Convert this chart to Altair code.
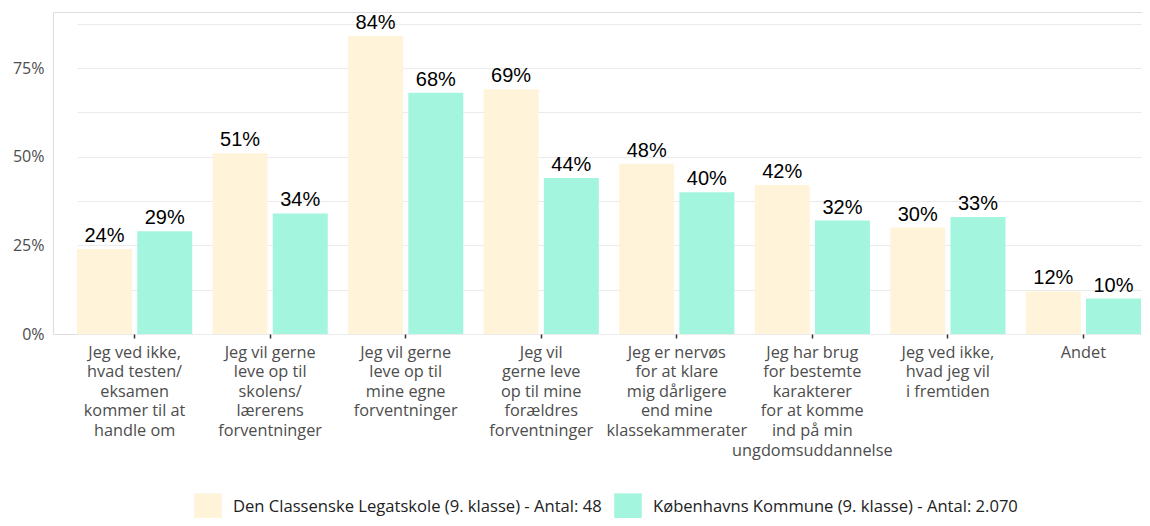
import altair as alt
import pandas as pd

categories = [
    "Jeg ved ikke,|hvad testen/|eksamen|kommer til at|handle om",
    "Jeg vil gerne|leve op til|skolens/|lærerens|forventninger",
    "Jeg vil gerne|leve op til|mine egne|forventninger",
    "Jeg vil|gerne leve|op til mine|forældres|forventninger",
    "Jeg er nervøs|for at klare|mig dårligere|end mine|klassekammerater",
    "Jeg har brug|for bestemte|karakterer|for at komme|ind på min|ungdomsuddannelse",
    "Jeg ved ikke,|hvad jeg vil|i fremtiden",
    "Andet",
]
series = [
    "Den Classenske Legatskole (9. klasse) - Antal: 48",
    "Københavns Kommune (9. klasse) - Antal: 2.070",
]
legatskole = [24, 51, 84, 69, 48, 42, 30, 12]
kommune = [29, 34, 68, 44, 40, 32, 33, 10]
colors = ["#FFF3DA", "#A3F5DE"]
y_ticks = [0, 12.5, 25, 37.5, 50, 62.5, 75, 87.5]

rows = []
for c, a, b in zip(categories, legatskole, kommune):
    rows.append({"cat": c, "serie": series[0], "value": a})
    rows.append({"cat": c, "serie": series[1], "value": b})
df = pd.DataFrame(rows)

FONT = "Open Sans"

base = alt.Chart(df).encode(
    x=alt.X(
        "cat:N",
        sort=categories,
        scale=alt.Scale(range=[24, 1088], paddingInner=0.15, paddingOuter=0),
        axis=alt.Axis(
            title=None,
            labelAngle=0,
            labelExpr="split(datum.label, '|')",
            labelFont=FONT,
            labelFontSize=16.3,
            labelColor="#4d4d4d",
            labelLineHeight=19.6,
            labelPadding=6,
            labelLimit=300,
            domain=False,
            grid=False,
            ticks=True,
            tickSize=4,
            tickColor="#333333",
            tickWidth=1.5,
        ),
    ),
    xOffset=alt.XOffset(
        "serie:N",
        sort=series,
        scale=alt.Scale(paddingInner=0.087, paddingOuter=0),
    ),
)

bars = base.mark_bar().encode(
    y=alt.Y(
        "value:Q",
        scale=alt.Scale(domain=[0, 90.8], nice=False),
        axis=alt.Axis(
            title=None,
            values=y_ticks,
            labelExpr="datum.value % 25 == 0 ? datum.value + '%' : ''",
            labelFont=FONT,
            labelFontSize=16,
            labelColor="#4d4d4d",
            labelPadding=9,
            ticks=False,
            domain=False,
            gridColor="#EBEBEB",
            gridWidth=1.2,
        ),
    ),
    color=alt.Color(
        "serie:N",
        sort=series,
        scale=alt.Scale(domain=series, range=colors),
        legend=alt.Legend(
            title=None,
            orient="none",
            direction="horizontal",
            legendX=141,
            legendY=481,
            symbolType="square",
            symbolSize=760,
            symbolStrokeWidth=0,
            symbolOpacity=1,
            labelFont=FONT,
            labelFontSize=16.6,
            labelColor="#222222",
            labelLimit=600,
            labelOffset=11,
            columnPadding=12,
        ),
    ),
)

text = base.mark_text(
    baseline="bottom", dy=-3, font="Liberation Sans", fontSize=20, color="#000000"
).transform_calculate(lab="datum.value + '%'").encode(
    y=alt.Y("value:Q"),
    text="lab:N",
)

chart = (
    alt.layer(bars, text)
    .properties(
        width=1089,
        height=322,
        autosize=alt.AutoSizeParams(type="none"),
        padding={"left": 45, "top": 4, "right": 0, "bottom": 184},
    )
    .configure_view(strokeWidth=0)
    .configure(background="white")
)

chart.save("out.html", embed_options={"renderer": "svg", "actions": False})
